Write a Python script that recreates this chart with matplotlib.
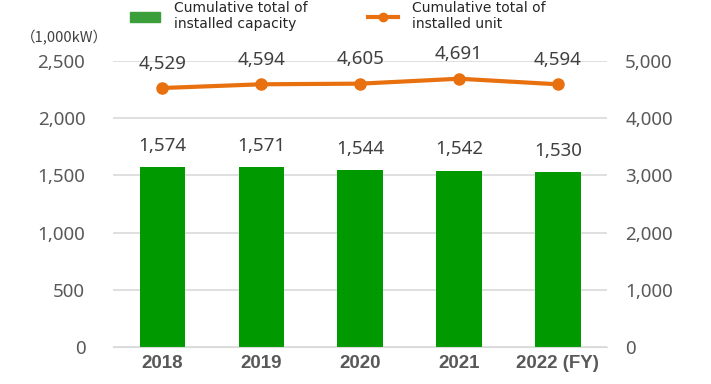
import matplotlib
matplotlib.use("Agg")
import matplotlib.pyplot as plt
from matplotlib.lines import Line2D
from matplotlib.patches import Patch

years = ["2018", "2019", "2020", "2021", "2022 (FY)"]
capacity = [1574, 1571, 1544, 1542, 1530]   # 1,000 kW
units = [4529, 4594, 4605, 4691, 4594]

GREEN = "#009900"
ORANGE = "#E8700F"
INK = "#595959"
GRID = "#d9d9d9"

plt.rcParams["font.family"] = ["Noto Sans", "Noto Sans CJK JP", "DejaVu Sans"]

fig = plt.figure(figsize=(7.11, 3.84), dpi=100)
ax = fig.add_axes([0.159, 0.096, 0.695, 0.745])
ax2 = ax.twinx()

x = range(len(years))
ax.bar(x, capacity, width=0.46, color=GREEN, zorder=2)
for xi, v in zip(x, capacity):
    ax.annotate(f"{v:,}", (xi, v), xytext=(0, 9), textcoords="offset points",
                ha="center", va="bottom", fontsize=13.5, color="#404040")

ax2.plot(x, units, color=ORANGE, lw=3, marker="o", ms=8, zorder=3)
for xi, v in zip(x, units):
    ax2.annotate(f"{v:,}", (xi, v), xytext=(0, 11), textcoords="offset points",
                 ha="center", va="bottom", fontsize=13.5, color="#404040")

ax.set_xlim(-0.5, len(years) - 0.5)
ax.set_ylim(0, 2500)
ax2.set_ylim(0, 5000)
ax.set_yticks(range(0, 2501, 500))
ax2.set_yticks(range(0, 5001, 1000))
ax.set_yticklabels([f"{v:,}" for v in range(0, 2501, 500)])
ax2.set_yticklabels([f"{v:,}" for v in range(0, 5001, 1000)])
ax.set_xticks(list(x))
ax.set_xticklabels(years, fontweight="bold", fontsize=12.5, color=INK,
                   family="Liberation Sans")
ax.grid(axis="y", color=GRID, lw=1.2, zorder=0)
ax.set_axisbelow(True)

for a in (ax, ax2):
    for s in a.spines.values():
        s.set_visible(False)
    a.tick_params(length=0, colors=INK, labelsize=13.5)
ax.tick_params(axis="y", pad=20)
ax2.tick_params(axis="y", pad=13)
ax.tick_params(axis="x", pad=6)
ax.spines["bottom"].set_visible(True)
ax.spines["bottom"].set_color(GRID)

fig.text(0.03, 0.903, "（1,000kW）", fontsize=10.5, color="#404040", va="center",
         family=["Noto Sans CJK JP", "DejaVu Sans"])

handles = [Patch(color="#3a9e3a"), Line2D([], [], color=ORANGE, lw=3, marker="o", ms=6)]
labels = ["Cumulative total of\ninstalled capacity", "Cumulative total of\ninstalled unit"]
fig.legend(handles, labels, loc="upper left", bbox_to_anchor=(0.165, 1.03), ncol=2,
           frameon=False, labelcolor="#262626", columnspacing=4.3,
           handlelength=2.2, handletextpad=1.0, prop={"family": "DejaVu Sans", "size": 10})

fig.savefig("out.png", dpi=100)
